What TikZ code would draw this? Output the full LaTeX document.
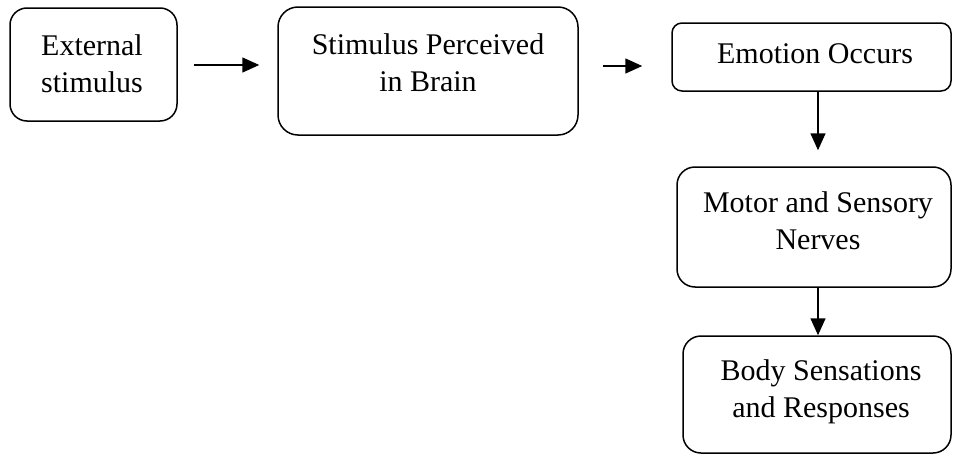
\documentclass[tikz,border=0pt]{standalone}
\usepackage{fontspec}
\setmainfont{Liberation Serif}
\usetikzlibrary{arrows.meta}
\begin{document}
\begin{tikzpicture}[x=1pt,y=-1pt,
  stagebox/.style={draw=black,line width=1.5pt,minimum width=#1,inner sep=0pt},
  stagetext/.style={align=center,inner sep=0pt,font=\fontsize{30}{37}\selectfont},
  flow/.style={line width=1.5pt,-{Triangle[length=17pt,width=15pt]}}]
\useasboundingbox (0,0) rectangle (953,455);
% boxes
\node[stagebox=167pt,minimum height=113pt,rounded corners=17pt] (b1) at (93.5,64.5) {};
\node[stagebox=300pt,minimum height=128pt,rounded corners=20pt] (b2) at (428,71) {};
\node[stagebox=279pt,minimum height=68pt,rounded corners=10pt] (b3) at (811.5,57) {};
\node[stagebox=274pt,minimum height=120pt,rounded corners=18pt] (b4) at (814,227) {};
\node[stagebox=268pt,minimum height=117pt,rounded corners=18pt] (b5) at (817,394.5) {};
% labels
\node[stagetext] (t1) at (92,64) {External\\stimulus};
\node[stagetext] (t2) at (428,63) {Stimulus Perceived\\in Brain};
\node[stagetext] (t3) at (815,54) {Emotion Occurs};
\node[stagetext] (t4) at (818,221) {Motor and Sensory\\Nerves};
\node[stagetext] (t5) at (821,392) {Body Sensations\\and Responses};
% connectors
\draw[flow,shorten <=16pt,shorten >=18pt] (b1.east |- 0,65) -- (b2.west |- 0,65);
\draw[flow,shorten <=24pt,shorten >=29pt] (b2.east |- 0,66) -- (b3.west |- 0,66);
\draw[flow,shorten >=16pt] (b3.south -| 818,0) -- (b4.north -| 818,0);
\draw[flow] (b4.south -| 818,0) -- (b5.north -| 818,0);
\end{tikzpicture}
\end{document}
